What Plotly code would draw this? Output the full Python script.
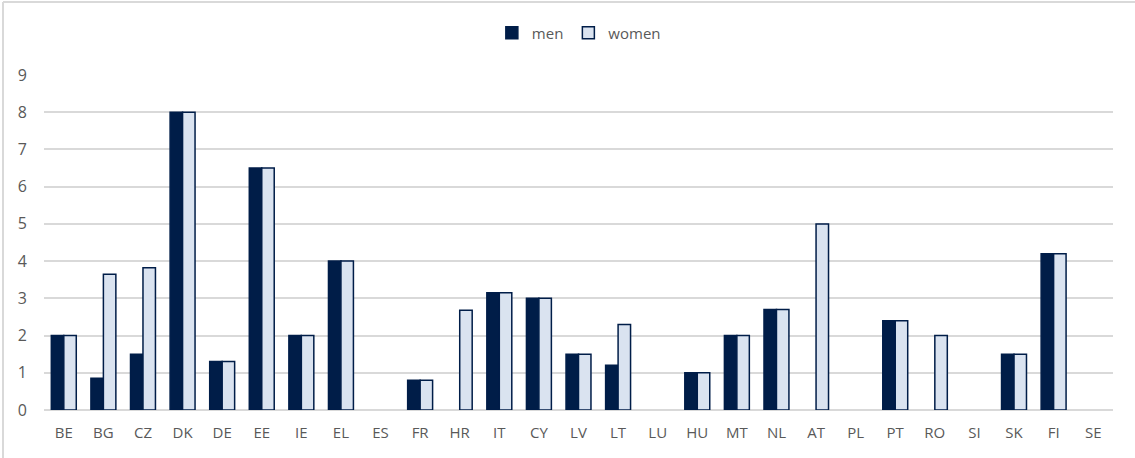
import plotly.graph_objects as go

countries = ["BE","BG","CZ","DK","DE","EE","IE","EL","ES","FR","HR","IT","CY","LV","LT",
             "LU","HU","MT","NL","AT","PL","PT","RO","SI","SK","FI","SE"]
men   = [2, 0.85, 1.5, 8, 1.3, 6.5, 2, 4, 0, 0.8, 0, 3.15, 3, 1.5, 1.2,
         0, 1, 2, 2.7, 0, 0, 2.4, 0, 0, 1.5, 4.2, 0]
women = [2, 3.65, 3.82, 8, 1.3, 6.5, 2, 4, 0, 0.8, 2.68, 3.15, 3, 1.5, 2.3,
         0, 1, 2, 2.7, 5, 0, 2.4, 2, 0, 1.5, 4.2, 0]
y_ticks = [0, 1, 2, 3, 4, 5, 6, 7, 8, 9]

navy = "#001D48"
light = "#DAE3F0"
font_family = "Open Sans, Noto Sans, sans-serif"

W, H = 1135, 458
ML, MR, MT, MB = 44, 22, 75, 48
PW, PH = W - ML - MR, H - MT - MB

def nz(v):
    return [x if x > 0 else None for x in v]

fig = go.Figure()
fig.add_trace(go.Bar(name="men", x=countries, y=nz(men),
                     marker=dict(color=navy, line=dict(color=navy, width=1.5))))
fig.add_trace(go.Bar(name="women", x=countries, y=nz(women),
                     marker=dict(color=light, line=dict(color=navy, width=1.5))))

fig.update_layout(
    width=W, height=H,
    margin=dict(l=ML, r=MR, t=MT, b=MB, autoexpand=False),
    paper_bgcolor="white", plot_bgcolor="white",
    barmode="group", bargap=0.37, bargroupgap=0,
    font=dict(family=font_family, size=15, color="#595959"),
    legend=dict(orientation="h", x=0.51, xanchor="center", xref="container",
                y=1 - 33 / H, yanchor="middle", yref="container",
                font=dict(size=15, color="#595959"), itemwidth=30, traceorder="normal"),
    showlegend=True,
)
fig.update_xaxes(showgrid=False, showline=False, ticks="", tickfont=dict(size=15, color="#595959"),
                 ticklabelstandoff=12)
fig.update_yaxes(range=[0, 9], tickvals=y_ticks, showgrid=True, gridcolor="#D9D9D9", gridwidth=2,
                 zeroline=True, zerolinecolor="#D9D9D9", zerolinewidth=2,
                 showline=False, ticks="", tickfont=dict(size=16, color="#595959"),
                 ticklabelstandoff=16)

# chart-area border (left and top edges visible)
top_y = (H - MB - 2) / PH
left_x = (3 - ML) / PW
fig.add_shape(type="line", xref="paper", yref="paper", x0=left_x, x1=1.5, y0=top_y, y1=top_y,
              line=dict(color="#D9D9D9", width=2))
fig.add_shape(type="line", xref="paper", yref="paper", x0=left_x, x1=left_x, y0=-1, y1=top_y,
              line=dict(color="#D9D9D9", width=2))

fig.write_html("out.html", config={"displayModeBar": False},
               post_script="document.body.style.margin='0';")
